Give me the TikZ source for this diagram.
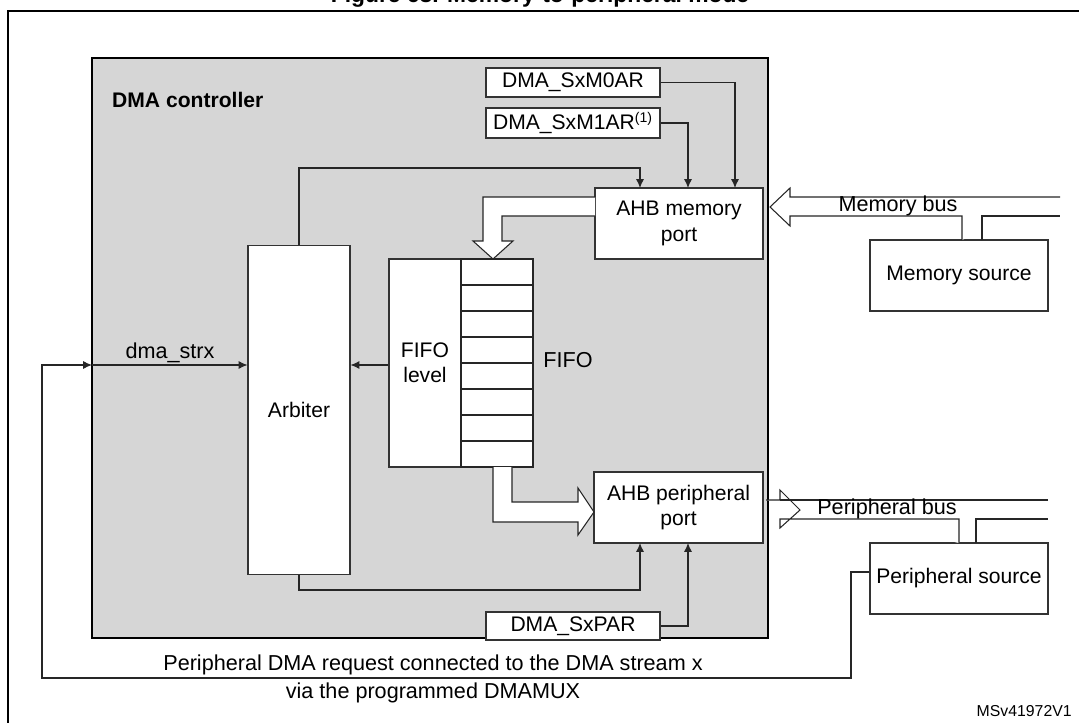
\documentclass[tikz,border=0pt]{standalone}
\usepackage{fontspec}
\setmainfont{Liberation Sans}
\usetikzlibrary{arrows.meta}
\begin{document}
\begin{tikzpicture}[x=0.02cm,y=-0.02cm,
  box/.style={draw=black!80,fill=white,line width=0.6pt,inner sep=0pt,font=\fontsize{12}{14.5}\selectfont,align=center},
  reg/.style={box,font=\fontsize{12}{14}\selectfont},
  ln/.style={draw=black!85,line width=0.6pt},
  arr/.style={ln,-{Latex[length=5pt,width=4.5pt]}},
  lbl/.style={font=\fontsize{12.3}{14}\selectfont,inner sep=0pt}]
\useasboundingbox (0,0) rectangle (1079,723);
\node[font=\bfseries\fontsize{13}{15}\selectfont] (title) at (540,-3) {Figure 68. Memory-to-peripheral mode};
\draw[line width=1.2pt] (8,728) -- (8,11) -- (1085,11);
% DMA controller
\draw[fill=black!16,line width=1.3pt] (92,58) rectangle (768,638);
\node[anchor=west,font=\bfseries\fontsize{12}{14}\selectfont] (dmac) at (106,100) {DMA controller};
% registers
\node[reg] (m0) at (573,82.5) [minimum width=3.48cm,minimum height=0.58cm] {DMA\_SxM0AR};
\node[reg] (m1) at (573,123) [minimum width=3.48cm,minimum height=0.6cm] {DMA\_SxM1AR\textsuperscript{(1)}};
\node[reg] (par) at (573,626) [minimum width=3.48cm,minimum height=0.56cm] {DMA\_SxPAR};
% ports
\node[box] (mp) at (679,223.5) [minimum width=3.36cm,minimum height=1.42cm] {AHB memory\\port};
\node[box] (pp) at (678.5,507.5) [minimum width=3.38cm,minimum height=1.42cm] {AHB peripheral\\port};
% arbiter
\node[box] (arb) at (299,410) [minimum width=2.04cm,minimum height=6.6cm] {Arbiter};
% FIFO
\node[box] (fl) at (425,363) [minimum width=1.44cm,minimum height=4.16cm] {FIFO\\level};
\draw[ln,fill=white] (461,259) rectangle (533,467);
\foreach \i in {1,...,7} \draw[ln] (461,{259+\i*26}) -- (533,{259+\i*26});
\node[lbl] (fifo) at (568,360) {FIFO};
% sources
\node[box] (ms) at (959,275.5) [minimum width=3.56cm,minimum height=1.42cm] {Memory source};
\node[box] (ps) at (959,578.5) [minimum width=3.56cm,minimum height=1.42cm] {Peripheral source};
% register arrows
\draw[arr] (m0.east) -| (735,188);
\draw[arr] (m1.east) -| (688,188);
\draw[arr] (par.east) -| (688,543);
\draw[arr] (arb.north) |- (640,168) -- (640,188);
\draw[arr] (arb.south) |- (640,590) -- (640,543);
\draw[arr] (fl.west |- 0,365) -- (arb.east |- 0,365);
% dma_strx
\coordinate (c1) at (851,572);
\draw[arr] (ps.west |- c1) -- (851,572) -- (851,678) -- (42,678) -- (42,365) -- (92,365);
\draw[arr] (92,365) -- (arb.west |- 0,365);
\node[lbl,anchor=south] (strx) at (170,363) {dma\_strx};
% hollow arrows
\draw[ln,fill=white] (595,197) -- (483,197) -- (483,241) -- (473,241) -- (493,259) -- (513,241) -- (502,241) -- (502,216) -- (595,216);
\draw[ln,fill=white] (493,467) -- (493,522) -- (578,522) -- (578,535) -- (594,512) -- (578,488) -- (578,502) -- (512,502) -- (512,467);
\draw[ln,fill=white] (1060,197) -- (790,197) -- (790,188) -- (770,207) -- (790,226) -- (790,216) -- (962,216) -- (962,240);
\draw[ln] (982,240) -- (982,216) -- (1060,216);
\node[lbl,anchor=south] (mb) at (898,216) {Memory bus};
\draw[ln,fill=white] (766,500) -- (780,500) -- (780,490) -- (800,510) -- (780,528) -- (780,519) -- (959,519) -- (959,543);
\draw[ln] (1048,500) -- (780,500);
\draw[ln] (976,543) -- (976,519) -- (1048,519);
\node[lbl,anchor=south] (pb) at (887,519) {Peripheral bus};
% bottom text
\node[lbl] (req) at (433,665) {Peripheral DMA request connected to the DMA stream x};
\node[lbl] (req2) at (433,693) {via the programmed DMAMUX};
\node[lbl,anchor=east,font=\fontsize{9}{10}\selectfont] (ms2) at (1072,711) {MSv41972V1};
\end{tikzpicture}
\end{document}
